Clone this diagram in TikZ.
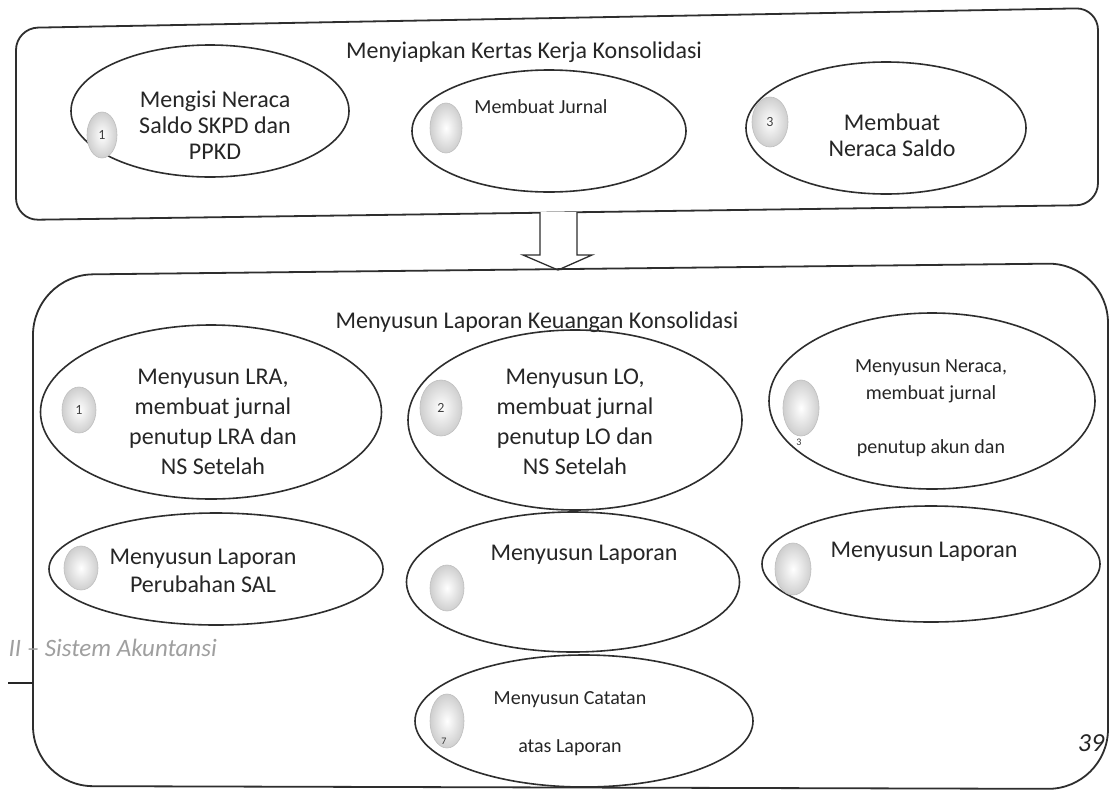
\documentclass[tikz,border=0pt]{standalone}
\usepackage{fontspec}
\setmainfont{Carlito}
\usetikzlibrary{shapes.geometric,calc}
\begin{document}
\begin{tikzpicture}[x=1pt,y=-1pt,
  frame/.style={draw=black!82, line width=1.8pt, rounded corners=#1},
  oval/.style={draw=black!82, line width=1.6pt, ellipse, inner sep=0pt},
  badge/.style={ellipse, inner sep=0pt, draw=gray!50, line width=0.6pt, shading=radial, inner color=white, outer color=gray!38, text=black!75, font=\fontsize{14}{14}\selectfont},
  big/.style={text=black!85, align=center, font=\fontsize{24}{27}\selectfont},
  bigw/.style={text=black!85, align=center, font=\fontsize{24}{30}\selectfont},
  small/.style={text=black!85, align=center, font=\fontsize{20}{27}\selectfont},
  ttl/.style={text=black!85, font=\fontsize{24}{24}\selectfont},
  tinynum/.style={text=black!80, font=\fontsize{10}{10}\selectfont, inner sep=0pt}
]
\useasboundingbox (0,0) rectangle (1114,793);
\fill[white] (0,0) rectangle (1114,793);

% ---------- top frame ----------
\draw[frame=22] (16,28) -- (1098,8) -- (1098,205) -- (16,220) -- cycle;
\node[ttl] (ttop) at (524,52) {Menyiapkan Kertas Kerja Konsolidasi};

\node[oval, minimum width=278pt, minimum height=132pt] (a1) at (210,111) {};
\node[oval, minimum width=274pt, minimum height=122pt] (a2) at (549,131) {};
\node[oval, minimum width=280pt, minimum height=132pt] (a3) at (886,128) {};

\node[badge, minimum width=30pt, minimum height=46pt] (ba1) at (102,135) {1};
\node[badge, minimum width=32pt, minimum height=50pt] (ba2) at (446,128) {};
\node[badge, minimum width=36pt, minimum height=50pt] (ba3) at (770,122) {3};

\node[big, font=\fontsize{24}{26}\selectfont] (ta1) at (215,125) {Mengisi Neraca\\Saldo SKPD dan\\PPKD};
\node[small] (ta2) at (541,107) {Membuat Jurnal};
\node[big, font=\fontsize{24}{26}\selectfont] (ta3) at (892,135) {Membuat\\Neraca Saldo};

% ---------- block arrow ----------
\coordinate (arrS) at (558,212);
\coordinate (arrT) at (558,270);
\draw[line width=1.3pt, draw=black!82, fill=white, line join=miter]
  ($(arrS)+(-18,0)$) -- ($(arrS)+(-18,43)$) -- ($(arrS)+(-35,43)$) -- (arrT)
  -- ($(arrS)+(34,43)$) -- ($(arrS)+(19,43)$) -- ($(arrS)+(19,0)$);

% ---------- bottom frame ----------
\draw[frame=60] (33,275) -- (1108,263) -- (1108,789) -- (33,786) -- cycle;
\node[ttl] (tbot) at (537,322) {Menyusun Laporan Keuangan Konsolidasi};

\node[oval, minimum width=341pt, minimum height=174pt] (c1) at (211,412) {};
\node[oval, minimum width=334pt, minimum height=180pt] (c2) at (575,420) {};
\node[oval, minimum width=326pt, minimum height=176pt] (c3) at (932,401) {};
\node[oval, minimum width=334pt, minimum height=112pt] (c4) at (216,569) {};
\node[oval, minimum width=333pt, minimum height=140pt] (c5) at (573,582) {};
\node[oval, minimum width=338pt, minimum height=116pt] (c6) at (931,564) {};
\node[oval, minimum width=338pt, minimum height=132pt] (c7) at (584,721) {};

\node[badge, minimum width=34pt, minimum height=46pt] (bc1) at (79,410) {1};
\node[badge, minimum width=42pt, minimum height=56pt] (bc2) at (441,408) {2};
\node[badge, minimum width=36pt, minimum height=56pt] (bc3) at (801,408) {};
\node[tinynum] (nc3) at (799,442) {3};
\node[badge, minimum width=34pt, minimum height=44pt] (bc4) at (81,568) {};
\node[badge, minimum width=34pt, minimum height=46pt] (bc5) at (447,588) {};
\node[badge, minimum width=36pt, minimum height=52pt] (bc6) at (793,569) {};
\node[badge, minimum width=34pt, minimum height=54pt] (bc7) at (447,721) {};
\node[tinynum] (nc7) at (444,741) {7};

\node[bigw] (tc1) at (213,422) {Menyusun LRA,\\membuat jurnal\\penutup LRA dan\\NS Setelah};
\node[bigw] (tc2) at (575,422) {Menyusun LO,\\membuat jurnal\\penutup LO dan\\NS Setelah};
\node[small] (tc3) at (931,381) {Menyusun Neraca,\\membuat jurnal};
\node[small] (tc3b) at (931,448) {penutup akun dan};
\node[big, font=\fontsize{24}{28}\selectfont] (tc4) at (203,571) {Menyusun Laporan\\Perubahan SAL};
\node[big] (tc5) at (584,555) {Menyusun Laporan};
\node[big] (tc6) at (924,552) {Menyusun Laporan};
\node[small] (tc7) at (570,700) {Menyusun Catatan};
\node[small] (tc7b) at (570,748) {atas Laporan};

% ---------- page decorations ----------
\node[anchor=west, text=gray!75, font=\itshape\fontsize{25}{25}\selectfont] (foot) at (5,648) {II – Sistem Akuntansi};
\coordinate (d1) at (8,683);
\coordinate (d2) at (33,683);
\draw[line width=2.2pt, black!85] (d1) -- (d2);
\node[text=black!85, font=\itshape\fontsize{26}{26}\selectfont] (pg) at (1091,743) {39};
\end{tikzpicture}
\end{document}
